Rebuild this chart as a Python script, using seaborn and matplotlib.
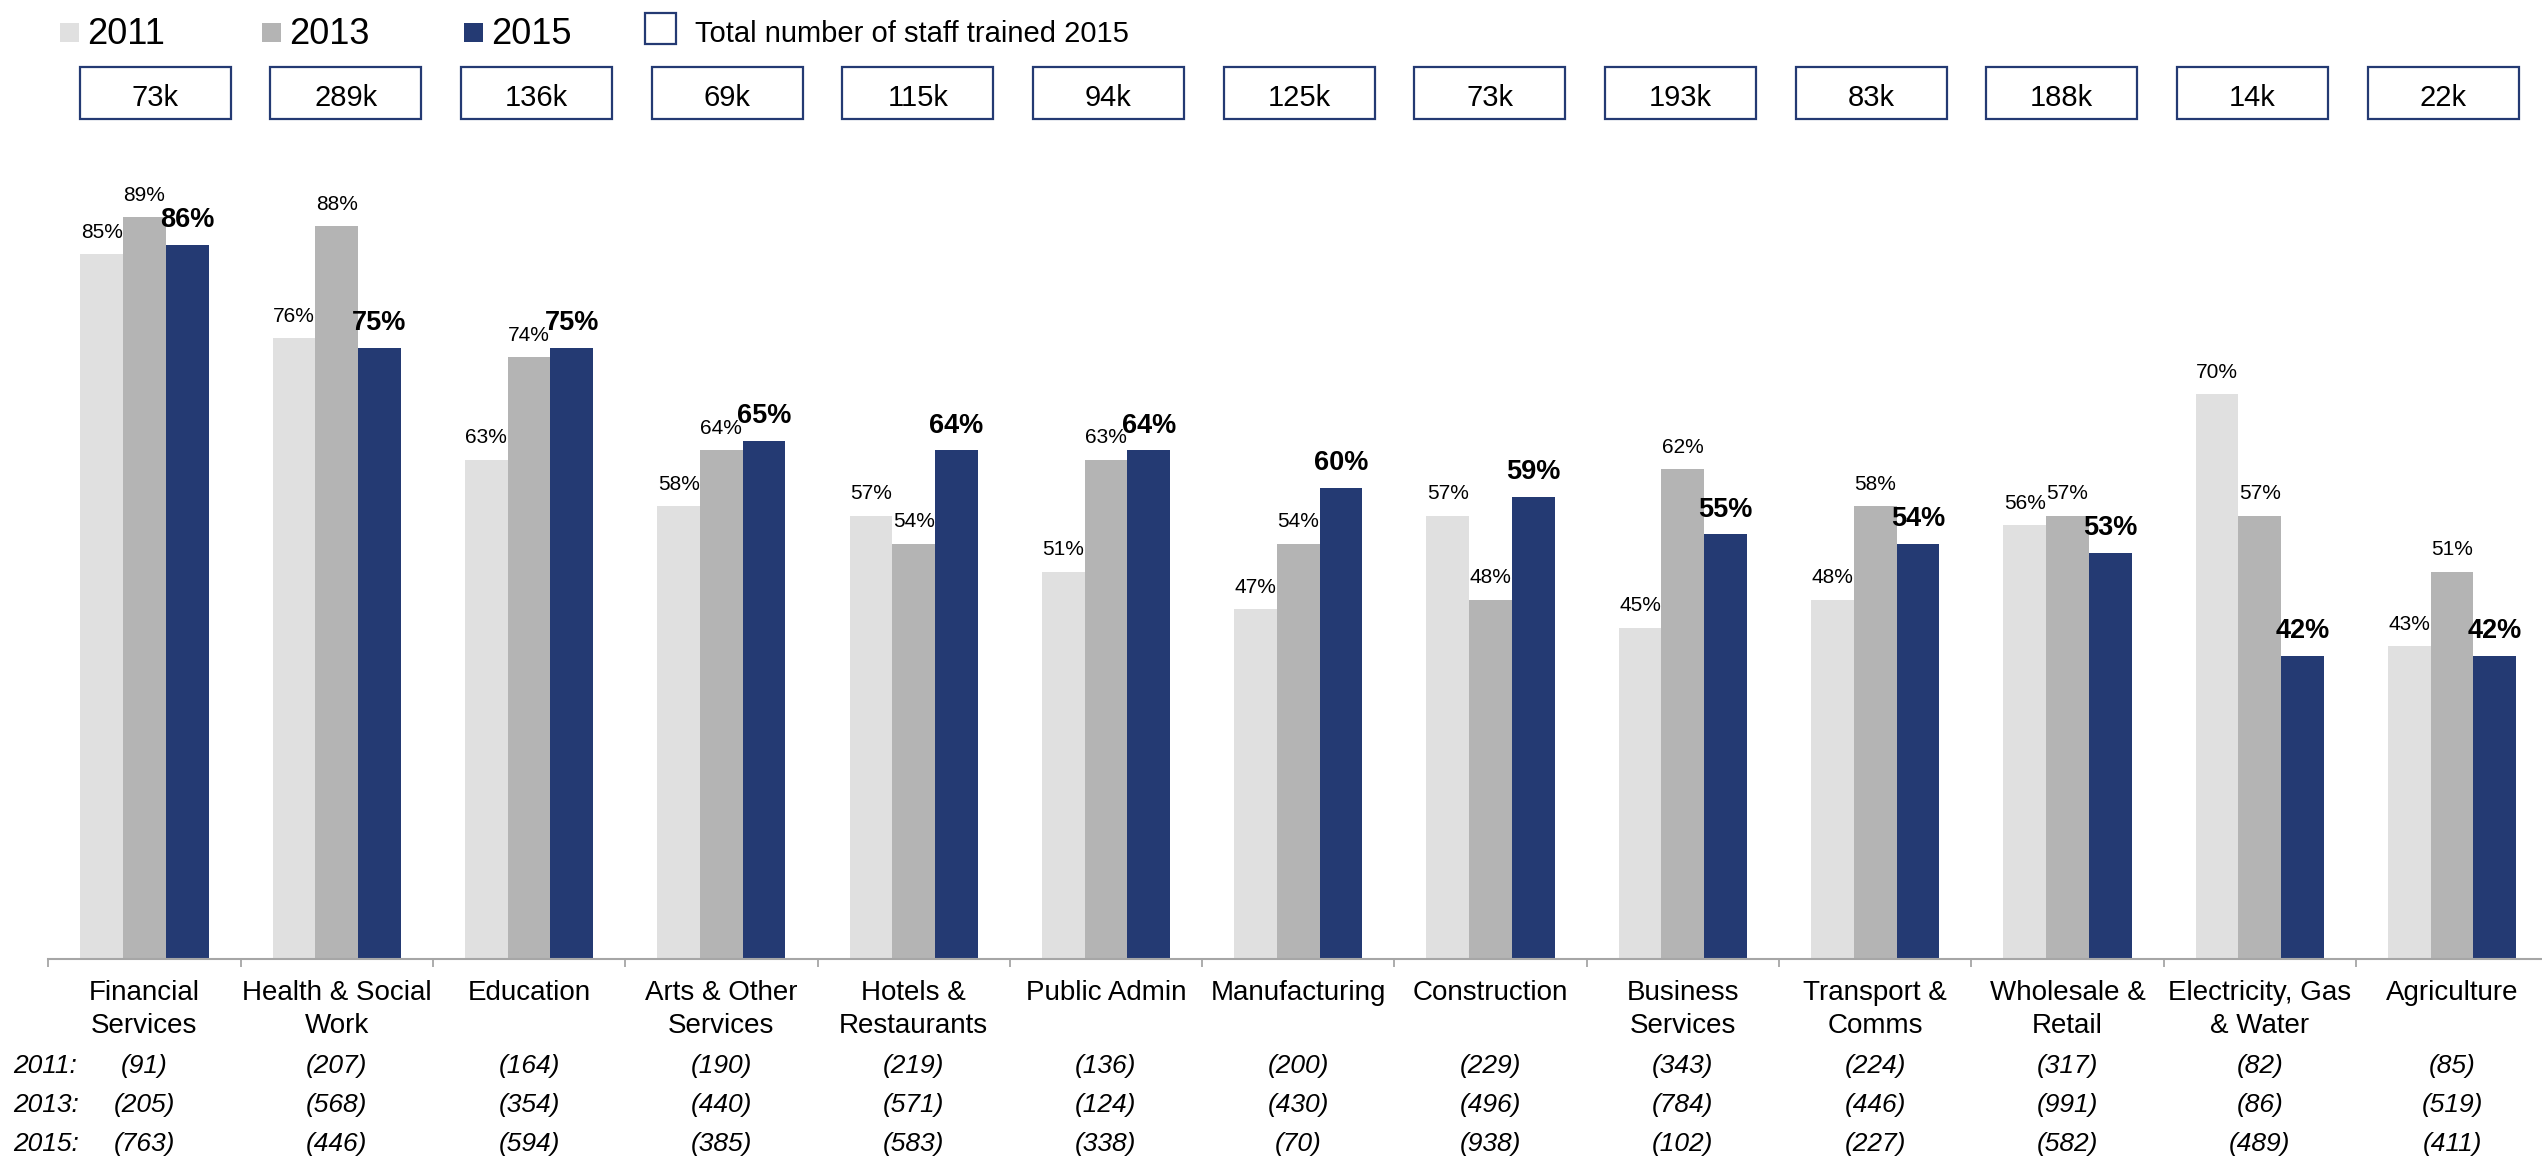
import numpy as np
import pandas as pd
import matplotlib
matplotlib.use("Agg")
import matplotlib.pyplot as plt
from matplotlib.patches import Rectangle
from matplotlib.transforms import blended_transform_factory
import seaborn as sns

# ---- data -------------------------------------------------------------
sectors = [
    "Financial\nServices", "Health & Social\nWork", "Education",
    "Arts & Other\nServices", "Hotels &\nRestaurants", "Public Admin",
    "Manufacturing", "Construction", "Business\nServices",
    "Transport &\nComms", "Wholesale &\nRetail", "Electricity, Gas\n& Water",
    "Agriculture",
]
years = ["2011", "2013", "2015"]

pct_2011 = [85, 76, 63, 58, 57, 51, 47, 57, 45, 48, 56, 70, 43]
pct_2013 = [89, 88, 74, 64, 54, 63, 54, 48, 62, 58, 57, 57, 51]
pct_2015 = [86, 75, 75, 65, 64, 64, 60, 59, 55, 54, 53, 42, 42]

# base sizes per survey year
n_2011 = [91, 207, 164, 190, 219, 136, 200, 229, 343, 224, 317, 82, 85]
n_2013 = [205, 568, 354, 440, 571, 124, 430, 496, 784, 446, 991, 86, 519]
n_2015 = [763, 446, 594, 385, 583, 338, 70, 938, 102, 227, 582, 489, 411]

# total number of staff trained in 2015 (thousands)
trained_2015_k = [73, 289, 136, 69, 115, 94, 125, 73, 193, 83, 188, 14, 22]

colors = ["#E0E0E0", "#B4B4B4", "#243A73"]
navy = "#243A73"
axis_grey = "#A6A6A6"

df = pd.DataFrame({
    "sector": sectors * 3,
    "year": np.repeat(years, len(sectors)),
    "pct": pct_2011 + pct_2013 + pct_2015,
})

# ---- style ------------------------------------------------------------
sns.set_theme(style="white")
plt.rcParams["font.family"] = ["Liberation Sans", "DejaVu Sans"]

W, H = 2542, 1157
fig = plt.figure(figsize=(W / 100, H / 100), dpi=100)


def fx(px):
    return px / W


def fy(py):
    return 1 - py / H


slot = 192.3
ax = fig.add_axes([fx(48.3), fy(959), 13 * slot / W, (959 - 114.5) / H])

sns.barplot(
    data=df, x="sector", y="pct", hue="year", order=sectors, hue_order=years,
    palette=colors, width=2 / 3, gap=0, saturation=1, errorbar=None,
    legend=False, linewidth=0, ax=ax,
)
ax.set_xlim(-0.5, len(sectors) - 0.5)
ax.set_ylim(9.5, 100)

# value labels above bars
for cont, yr in zip(ax.containers, years):
    bold = yr == "2015"
    ax.bar_label(
        cont, fmt="%.0f%%", padding=9 if not bold else 8.5,
        fontsize=19.5 if bold else 15,
        fontweight="bold" if bold else "normal", color="black",
    )

# axes cosmetics
for side in ["top", "right", "left"]:
    ax.spines[side].set_visible(False)
ax.spines["bottom"].set_color(axis_grey)
ax.spines["bottom"].set_linewidth(1.5)
ax.set_yticks([])
ax.set_xlabel("")
ax.set_ylabel("")
ax.tick_params(axis="x", which="major", length=0, pad=15,
               labelsize=20, labelcolor="black")
for lbl in ax.get_xticklabels():
    lbl.set_linespacing(1.38)
ax.set_xticks(np.arange(-0.5, len(sectors), 1), minor=True)
ax.tick_params(axis="x", which="minor", bottom=True, length=5.8, width=1.3,
               color=axis_grey, direction="out")

blend = blended_transform_factory(ax.transData, fig.transFigure)

# base-size rows under the category labels
row_baselines = [1073, 1112, 1151]
for yr, counts, base in zip(years, [n_2011, n_2013, n_2015], row_baselines):
    fig.text(fx(13), fy(base), f"{yr}:", ha="left", va="baseline",
             fontsize=19, style="italic", color="black")
    for i, n in enumerate(counts):
        ax.text(i, fy(base), f"({n})", transform=blend, ha="center",
                va="baseline", fontsize=19, style="italic", color="black",
                clip_on=False)

# boxed totals row above the bars
box_w = 151 / slot
for i, t in enumerate(trained_2015_k):
    cx = 0.055 + 0.9915 * i
    ax.add_patch(Rectangle((cx - box_w / 2, fy(119)), box_w, 52.3 / H,
                           transform=blend, facecolor="white",
                           edgecolor=navy, linewidth=1.6, clip_on=False))
    ax.text(cx, fy(106), f"{t}k", transform=blend, ha="center",
            va="baseline", fontsize=21, color="black", clip_on=False)

# legend
legend_x = [60, 262, 464]
for yr, col, lx in zip(years, colors, legend_x):
    fig.add_artist(Rectangle((fx(lx), fy(42)), 19 / W, 19.3 / H,
                             transform=fig.transFigure, facecolor=col,
                             edgecolor="none"))
    fig.text(fx(lx + 27.5), fy(44), yr, ha="left", va="baseline",
             fontsize=26, color="black")
fig.add_artist(Rectangle((fx(645), fy(43.7)), 30.7 / W, 31 / H,
                         transform=fig.transFigure, facecolor="white",
                         edgecolor=navy, linewidth=1.6))
fig.text(fx(695), fy(41.7), "Total number of staff trained 2015",
         ha="left", va="baseline", fontsize=21, color="black")

fig.savefig("out.png", dpi=100, facecolor="white")
